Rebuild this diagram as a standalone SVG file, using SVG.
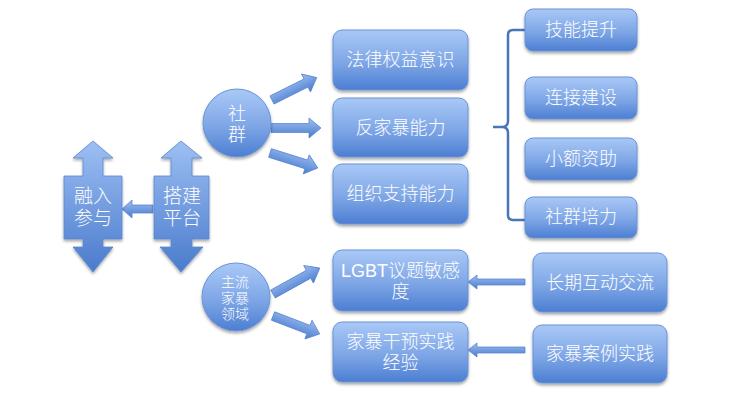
<svg xmlns="http://www.w3.org/2000/svg" xmlns:xlink="http://www.w3.org/1999/xlink" width="742" height="408" viewBox="0 0 742 408">
<defs>
<linearGradient id="g" x1="0" y1="0" x2="0" y2="1">
<stop offset="0" stop-color="#a9c8f6"/>
<stop offset="0.55" stop-color="#7ea6e6"/>
<stop offset="1" stop-color="#4c7ed2"/>
</linearGradient>
<linearGradient id="ga" x1="0" y1="0" x2="0" y2="1">
<stop offset="0" stop-color="#9dbff3"/>
<stop offset="1" stop-color="#4a7bcc"/>
</linearGradient>
<filter id="sh" x="-10%" y="-10%" width="120%" height="130%">
<feDropShadow dx="0" dy="2" stdDeviation="1.6" flood-color="#000" flood-opacity="0.35"/>
</filter>
<path id="ba" d="M0,-4.5 L38,-4.5 L38,-10 L50,0 L38,10 L38,4.5 L0,4.5 Z"/>
</defs>
<style>
.box{fill:url(#g);stroke:#6b93d6;stroke-width:1;filter:url(#sh)}
.arr{fill:url(#ga);stroke:#5b87cf;stroke-width:0.8}
.t{fill:#ffffff;font-family:"Liberation Sans","Noto Sans CJK SC",sans-serif;font-weight:300;font-size:18px;text-anchor:middle;dominant-baseline:central}
.t19{font-size:19px}
.t14{font-size:14px}
.brace{fill:none;stroke:#4a76b8;stroke-width:2.5}
</style>
<rect width="742" height="408" fill="#ffffff"/>

<g id="connectors">
<use xlink:href="#ba" class="arr" transform="translate(272,100) rotate(-26.6)"/>
<use xlink:href="#ba" class="arr" transform="translate(271,128)"/>
<use xlink:href="#ba" class="arr" transform="translate(270,153) rotate(17.4)"/>
<use xlink:href="#ba" class="arr" transform="translate(273,294) rotate(-29) scale(1.07,1)"/>
<use xlink:href="#ba" class="arr" transform="translate(273,316) rotate(21)"/>
<path class="arr" d="M153,205 L132,205 L132,200 L122,209 L132,218 L132,213 L153,213 Z"/>
<path class="arr" d="M525,279 L477,279 L477,275 L468,282 L477,289 L477,285 L525,285 Z"/>
<path class="arr" d="M525,347 L477,347 L477,343 L468,350 L477,357 L477,353 L525,353 Z"/>
<path class="brace" d="M525,30 H513 Q508,30 508,35 V121 Q508,127 502,127 H493 M502,127 Q508,127 508,133 V215 Q508,220 513,220 H525"/>
</g>

<g id="n-rongru">
<path class="arr" filter="url(#sh)" d="M93,141 L113,158 L103,158 L103,176 L122,176 L122,239 L103,239 L103,247 L113,247 L93,272 L73,247 L83,247 L83,239 L64,239 L64,176 L83,176 L83,158 L73,158 Z"/>
<text class="t t19"><tspan x="93" y="196">融入</tspan><tspan x="93" y="218">参与</tspan></text>
</g>

<g id="n-dajian">
<path class="arr" filter="url(#sh)" d="M181,141 L202,158 L192,158 L192,176 L209,176 L209,239 L192,239 L192,247 L203,247 L181,272 L160,247 L171,247 L171,239 L154,239 L154,176 L171,176 L171,158 L161,158 Z"/>
<text class="t t19"><tspan x="182" y="196">搭建</tspan><tspan x="182" y="218">平台</tspan></text>
</g>

<g id="n-shequn">
<circle class="box" cx="237" cy="123" r="34"/>
<text class="t"><tspan x="237" y="114">社</tspan><tspan x="237" y="135">群</tspan></text>
</g>

<g id="n-zhuliu">
<circle class="box" cx="236" cy="297" r="34"/>
<text class="t t14"><tspan x="235" y="282">主流</tspan><tspan x="235" y="298">家暴</tspan><tspan x="235" y="314">领域</tspan></text>
</g>

<g id="n-falv">
<rect class="box" x="333" y="30" width="135" height="60" rx="9"/>
<text class="t" x="400.5" y="60">法律权益意识</text>
</g>
<g id="n-fanjiabao">
<rect class="box" x="333" y="98" width="135" height="59" rx="9"/>
<text class="t" x="400.5" y="128">反家暴能力</text>
</g>
<g id="n-zuzhi">
<rect class="box" x="333" y="164" width="135" height="60" rx="9"/>
<text class="t" x="400.5" y="194">组织支持能力</text>
</g>

<g id="n-jineng">
<rect class="box" x="525" y="9" width="112" height="42" rx="8"/>
<text class="t" x="581" y="30">技能提升</text>
</g>
<g id="n-lianjie">
<rect class="box" x="525" y="77" width="112" height="42" rx="8"/>
<text class="t" x="581" y="98">连接建设</text>
</g>
<g id="n-xiaoe">
<rect class="box" x="525" y="138" width="112" height="42" rx="8"/>
<text class="t" x="581" y="159">小额资助</text>
</g>
<g id="n-peili">
<rect class="box" x="525" y="197" width="112" height="41" rx="8"/>
<text class="t" x="581" y="217">社群培力</text>
</g>

<g id="n-lgbt">
<rect class="box" x="333" y="250" width="135" height="61" rx="9"/>
<text class="t"><tspan x="400.5" y="271">LGBT议题敏感</tspan><tspan x="400.5" y="292">度</tspan></text>
</g>
<g id="n-ganyu">
<rect class="box" x="333" y="322" width="135" height="60" rx="9"/>
<text class="t"><tspan x="400.5" y="342">家暴干预实践</tspan><tspan x="400.5" y="363">经验</tspan></text>
</g>

<g id="n-changqi">
<rect class="box" x="533" y="253" width="134" height="59" rx="9"/>
<text class="t" x="600" y="283">长期互动交流</text>
</g>
<g id="n-anli">
<rect class="box" x="533" y="325" width="134" height="58" rx="9"/>
<text class="t" x="600" y="354">家暴案例实践</text>
</g>
</svg>
